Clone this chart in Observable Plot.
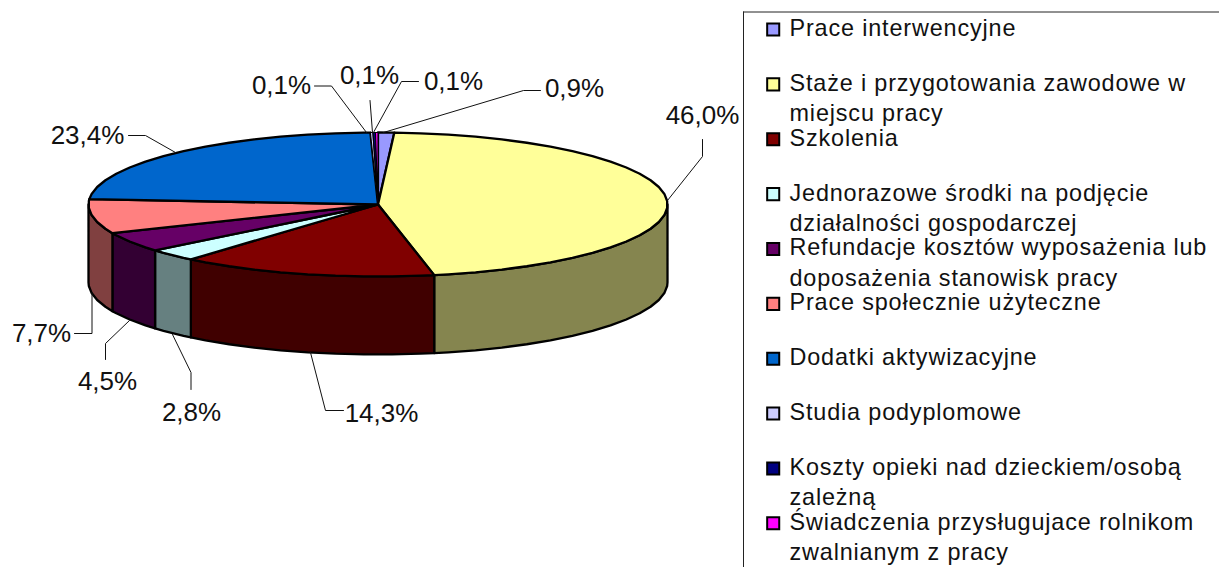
<!DOCTYPE html>
<html>
<head>
<meta charset="utf-8">
<script src="https://cdn.jsdelivr.net/npm/d3@7"></script>
<script src="https://cdn.jsdelivr.net/npm/@observablehq/plot@0.6"></script>
<style>
html,body{margin:0;padding:0;background:#fff;overflow:hidden}
svg{display:block}
.legend-text{letter-spacing:0.85px}
</style>
</head>
<body>
<div id="chart"></div>
<script>
const categories = [
  "Prace interwencyjne",
  "Staże i przygotowania zawodowe w\nmiejscu pracy",
  "Szkolenia",
  "Jednorazowe środki na podjęcie\ndziałalności gospodarczej",
  "Refundacje kosztów wyposażenia lub\ndoposażenia stanowisk pracy",
  "Prace społecznie użyteczne",
  "Dodatki aktywizacyjne",
  "Studia podyplomowe",
  "Koszty opieki nad dzieckiem/osobą\nzależną",
  "Świadczenia przysługujace rolnikom\nzwalnianym z pracy"
];
const shares = [0.9, 46.0, 14.3, 2.8, 4.5, 7.7, 23.4, 0.14, 0.14, 0.14];
const topColors = ["#9999FF","#FFFF99","#800000","#CCFFFF","#660066","#FF8080","#0066CC","#CCCCFF","#000080","#FF00FF"];
const sideColors = ["#4D4D80","#85854F","#400000","#668080","#330033","#804040","#003366","#666680","#000040","#800080"];

// Layout of the percentage labels and their leader lines, in pixels
const labelPos = [[574,88],[702,115],[381,413],[191,412],[107,381],[41,333],[87,135],[281,85],[369,75],[453,81]];
const leaders = [
  [[383,132],[523,90],[540,90]],
  [[667,200],[702,156],[702,139]],
  [[310,352],[325,410],[343,410]],
  [[172,334],[190.5,372],[190.5,389]],
  [[129,320],[105,343],[105,359]],
  [[91.5,292],[91.5,333],[74,333]],
  [[175,152],[145,135],[128,135]],
  [[366,132],[331,85.5],[314,85.5]],
  [[372,132],[369.5,100]],
  [[373,132],[401,81],[418,81]]
];

const cx = 377.5, cy = 204, rx = 289.5, ry = 72, depth = 78;
const STEP = 5.625;
const px = t => cx + rx * Math.sin(t * Math.PI / 180);
const py = t => cy - ry * Math.cos(t * Math.PI / 180);

function arcAngles(a, b) {
  const out = [a];
  for (let t = Math.ceil((a - STEP / 2) / STEP) * STEP + STEP / 2; t < b; t += STEP) if (t > a) out.push(t);
  out.push(b);
  return out;
}

const total = d3.sum(shares);
let acc = 0;
const slices = shares.map((v, i) => {
  const a = acc / total * 360; acc += v;
  return {i, a, b: acc / total * 360};
});

const topRows = [], thinRows = [], sideRows = [];
for (const s of slices) {
  const key = "t" + s.i;
  const pts = [[cx, cy], ...arcAngles(s.a, s.b).map(t => [px(t), py(t)]), [cx, cy]];
  const target = shares[s.i] < 0.5 ? thinRows : topRows;
  for (const [x, y] of pts) target.push({key, x, y, color: topColors[s.i]});
  const a = Math.max(s.a, 90), b = Math.min(s.b, 270);
  if (b > a) {
    const arc = arcAngles(a, b);
    const k2 = "s" + s.i;
    const ring = [...arc.map(t => [px(t), py(t)]), ...arc.slice().reverse().map(t => [px(t), py(t) + depth])];
    ring.push(ring[0]);
    for (const [x, y] of ring) sideRows.push({key: k2, x, y, color: sideColors[s.i]});
  }
}

const leaderRows = leaders.flatMap((l, i) => l.map(([x, y]) => ({key: i, x, y})));
const pctRows = shares.map((v, i) => ({
  text: v.toFixed(1).replace(".", ",") + "%", x: labelPos[i][0], y: labelPos[i][1]
}));

const legendTop = 29, legendGap = 54.87, legendLine = 30.5;
const swatchRows = categories.map((c, i) => ({y: legendTop + i * legendGap, color: topColors[i]}));
const legendRows = categories.flatMap((c, i) =>
  c.split("\n").map((t, j) => ({text: t, y: legendTop + i * legendGap + j * legendLine})));

const chart = Plot.plot({
  width: 1219, height: 567,
  margin: 0,
  x: {domain: [0, 1219], range: [0, 1219], axis: null},
  y: {domain: [0, 567], range: [0, 567], axis: null},
  color: {type: "identity"},
  marks: [
    Plot.line(sideRows, {x: "x", y: "y", z: "key", fill: "color", stroke: "#000", strokeWidth: 2.3, curve: "linear", strokeLinejoin: "round"}),
    Plot.line(topRows, {x: "x", y: "y", z: "key", fill: "color", stroke: "#000", strokeWidth: 2.3, curve: "linear", strokeLinejoin: "round"}),
    Plot.line(thinRows, {x: "x", y: "y", z: "key", fill: "color", stroke: "#000", strokeWidth: 1.1, curve: "linear", strokeLinejoin: "round"}),
    Plot.line(leaderRows, {x: "x", y: "y", z: "key", stroke: "#111", strokeWidth: 1, curve: "linear"}),
    Plot.text(pctRows, {x: "x", y: "y", text: "text", fontFamily: "Liberation Sans", fontSize: 26, fill: "#111", lineAnchor: "middle"}),
    Plot.ruleX([743], {y1: 11.5, y2: 567, stroke: "#222", strokeWidth: 1}),
    Plot.ruleY([11.5], {x1: 743, x2: 1219, stroke: "#222", strokeWidth: 1}),
    Plot.dot(swatchRows, {x: () => 772.7, y: "y", symbol: "square", r: 6.8, fill: "color", stroke: "#000", strokeWidth: 2}),
    Plot.text(legendRows, {x: () => 789, y: "y", text: "text", textAnchor: "start", lineAnchor: "middle", dy: -1, fontFamily: "Liberation Sans", fontSize: 23.4, fill: "#111", className: "legend-text"})
  ]
});
document.getElementById("chart").appendChild(chart);
</script>
</body>
</html>
